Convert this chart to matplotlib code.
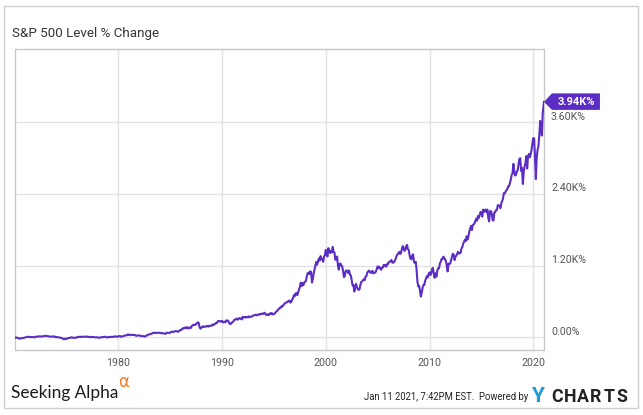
import matplotlib
matplotlib.use("Agg")
import matplotlib.pyplot as plt
import matplotlib.transforms as mt
from matplotlib.patches import Polygon, Rectangle
import numpy as np
import pandas as pd

# ---------------- data ----------------
title = "S&P 500 Level % Change"
base_level = 94.05          # index level at start of chart (0 %)
start_date = "1970-01-02"
end_date = "2021-01-11"
end_level = 3799.61

# monthly closes of the S&P 500, by year (Jan..Dec)
closes = {
    1970: [85.02, 89.50, 89.63, 81.52, 76.55, 72.72, 78.05, 81.52, 84.21, 83.25, 87.20, 92.15],
    1971: [95.88, 96.75, 100.31, 103.95, 99.63, 99.70, 95.58, 99.03, 98.34, 94.23, 93.99, 102.09],
    1972: [103.94, 106.57, 107.20, 107.67, 109.53, 107.14, 107.39, 111.09, 110.55, 111.58, 116.67, 118.05],
    1973: [116.03, 111.68, 111.52, 106.97, 104.95, 104.26, 108.22, 104.25, 108.43, 108.29, 95.96, 97.55],
    1974: [96.57, 96.22, 93.98, 90.31, 87.28, 86.00, 79.31, 72.15, 63.54, 73.90, 69.97, 68.56],
    1975: [76.98, 81.59, 83.36, 87.30, 91.15, 95.19, 88.75, 86.88, 83.87, 89.04, 91.24, 90.19],
    1976: [100.86, 99.71, 102.77, 101.64, 100.18, 104.28, 103.44, 102.91, 105.24, 102.90, 102.10, 107.46],
    1977: [102.03, 99.82, 98.42, 98.44, 96.12, 100.48, 98.85, 96.77, 96.53, 92.34, 94.83, 95.10],
    1978: [89.25, 87.04, 89.21, 96.83, 97.24, 95.53, 100.68, 103.29, 102.54, 93.15, 94.70, 96.11],
    1979: [99.93, 96.28, 101.59, 101.76, 99.08, 102.91, 103.81, 109.32, 109.32, 101.82, 106.16, 107.94],
    1980: [114.16, 113.66, 102.09, 106.29, 111.24, 114.24, 121.67, 122.38, 125.46, 127.47, 140.52, 135.76],
    1981: [129.55, 131.27, 136.00, 132.81, 132.59, 131.21, 130.92, 122.79, 116.18, 121.89, 126.35, 122.55],
    1982: [120.40, 113.11, 111.96, 116.44, 111.88, 109.61, 107.09, 119.51, 120.42, 133.71, 138.54, 140.64],
    1983: [145.30, 148.06, 152.96, 164.42, 162.39, 168.11, 162.56, 164.40, 166.07, 163.55, 166.40, 164.93],
    1984: [163.41, 157.06, 159.18, 160.05, 150.55, 153.18, 150.66, 166.68, 166.10, 166.09, 163.58, 167.24],
    1985: [179.63, 181.18, 180.66, 179.83, 189.55, 191.85, 190.92, 188.63, 182.08, 189.82, 202.17, 211.28],
    1986: [211.78, 226.92, 238.90, 235.52, 247.35, 250.84, 236.12, 252.93, 231.32, 243.98, 249.22, 242.17],
    1987: [274.08, 284.20, 291.70, 288.36, 290.10, 304.00, 318.66, 329.80, 321.83, 251.79, 230.30, 247.08],
    1988: [257.07, 267.82, 258.89, 261.33, 262.16, 273.50, 272.02, 261.52, 271.91, 278.97, 273.70, 277.72],
    1989: [297.47, 288.86, 294.87, 309.64, 320.52, 317.98, 346.08, 351.45, 349.15, 340.36, 345.99, 353.40],
    1990: [329.08, 331.89, 339.94, 330.80, 361.23, 358.02, 356.15, 322.56, 306.05, 304.00, 322.22, 330.22],
    1991: [343.93, 367.07, 375.22, 375.35, 389.83, 371.16, 387.81, 395.43, 387.86, 392.46, 375.22, 417.09],
    1992: [408.79, 412.70, 403.69, 414.95, 415.35, 408.14, 424.21, 414.03, 417.80, 418.68, 431.35, 435.71],
    1993: [438.78, 443.38, 451.67, 440.19, 450.19, 450.53, 448.13, 463.56, 458.93, 467.83, 461.79, 466.45],
    1994: [481.61, 467.14, 445.77, 450.91, 456.50, 444.27, 458.26, 475.49, 462.69, 472.35, 453.69, 459.27],
    1995: [470.42, 487.39, 500.71, 514.71, 533.40, 544.75, 562.06, 561.88, 584.41, 581.50, 605.37, 615.93],
    1996: [636.02, 640.43, 645.50, 654.17, 669.12, 670.63, 639.95, 651.99, 687.31, 705.27, 757.02, 740.74],
    1997: [786.16, 790.82, 757.12, 801.34, 848.28, 885.14, 954.29, 899.47, 947.28, 914.62, 955.40, 970.43],
    1998: [980.28, 1049.34, 1101.75, 1111.75, 1090.82, 1133.84, 1120.67, 957.28, 1017.01, 1098.67, 1163.63, 1229.23],
    1999: [1279.64, 1238.33, 1286.37, 1335.18, 1301.84, 1372.71, 1328.72, 1320.41, 1282.71, 1362.93, 1388.91, 1469.25],
    2000: [1394.46, 1366.42, 1498.58, 1452.43, 1420.60, 1454.60, 1430.83, 1517.68, 1436.51, 1429.40, 1314.95, 1320.28],
    2001: [1366.01, 1239.94, 1160.33, 1249.46, 1255.82, 1224.42, 1211.23, 1133.58, 1040.94, 1059.78, 1139.45, 1148.08],
    2002: [1130.20, 1106.73, 1147.39, 1076.92, 1067.14, 989.82, 911.62, 916.07, 815.28, 885.76, 936.31, 879.82],
    2003: [855.70, 841.15, 848.18, 916.92, 963.59, 974.50, 990.31, 1008.01, 995.97, 1050.71, 1058.20, 1111.92],
    2004: [1131.13, 1144.94, 1126.21, 1107.30, 1120.68, 1140.84, 1101.72, 1104.24, 1114.58, 1130.20, 1173.82, 1211.92],
    2005: [1181.27, 1203.60, 1180.59, 1156.85, 1191.50, 1191.33, 1234.18, 1220.33, 1228.81, 1207.01, 1249.48, 1248.29],
    2006: [1280.08, 1280.66, 1294.87, 1310.61, 1270.09, 1270.20, 1276.66, 1303.82, 1335.85, 1377.94, 1400.63, 1418.30],
    2007: [1438.24, 1406.82, 1420.86, 1482.37, 1530.62, 1503.35, 1455.27, 1473.99, 1526.75, 1549.38, 1481.14, 1468.36],
    2008: [1378.55, 1330.63, 1322.70, 1385.59, 1400.38, 1280.00, 1267.38, 1282.83, 1166.36, 968.75, 896.24, 903.25],
    2009: [825.88, 735.09, 797.87, 872.81, 919.14, 919.32, 987.48, 1020.62, 1057.08, 1036.19, 1095.63, 1115.10],
    2010: [1073.87, 1104.49, 1169.43, 1186.69, 1089.41, 1030.71, 1101.60, 1049.33, 1141.20, 1183.26, 1180.55, 1257.64],
    2011: [1286.12, 1327.22, 1325.83, 1363.61, 1345.20, 1320.64, 1292.28, 1218.89, 1131.42, 1253.30, 1246.96, 1257.60],
    2012: [1312.41, 1365.68, 1408.47, 1397.91, 1310.33, 1362.16, 1379.32, 1406.58, 1440.67, 1412.16, 1416.18, 1426.19],
    2013: [1498.11, 1514.68, 1569.19, 1597.57, 1630.74, 1606.28, 1685.73, 1632.97, 1681.55, 1756.54, 1805.81, 1848.36],
    2014: [1782.59, 1859.45, 1872.34, 1883.95, 1923.57, 1960.23, 1930.67, 2003.37, 1972.29, 2018.05, 2067.56, 2058.90],
    2015: [1994.99, 2104.50, 2067.89, 2085.51, 2107.39, 2063.11, 2103.84, 1972.18, 1920.03, 2079.36, 2080.41, 2043.94],
    2016: [1940.24, 1932.23, 2059.74, 2065.30, 2096.95, 2098.86, 2173.60, 2170.95, 2168.27, 2126.15, 2198.81, 2238.83],
    2017: [2278.87, 2363.64, 2362.72, 2384.20, 2411.80, 2423.41, 2470.30, 2471.65, 2519.36, 2575.26, 2647.58, 2673.61],
    2018: [2823.81, 2713.83, 2640.87, 2648.05, 2705.27, 2718.37, 2816.29, 2901.52, 2913.98, 2711.74, 2760.17, 2506.85],
    2019: [2704.10, 2784.49, 2834.40, 2945.83, 2752.06, 2941.76, 2980.38, 2926.46, 2976.74, 3037.56, 3140.98, 3230.78],
    2020: [3225.52, 2954.22, 2584.59, 2912.43, 3044.31, 3100.29, 3271.12, 3500.31, 3363.00, 3269.96, 3621.63, 3756.07],
}

x_tick_years = [1980, 1990, 2000, 2010, 2020]
y_ticks = [0, 1200, 2400, 3600]
y_tick_labels = ["0.00%", "1.20K%", "2.40K%", "3.60K%"]
end_label = "3.94K%"

# ---------------- build series ----------------
years = sorted(closes)
levels = [base_level] + [v for y in years for v in closes[y]] + [end_level]
dates = ([pd.Timestamp(start_date)]
         + [pd.Timestamp(year=y, month=m, day=1) + pd.offsets.MonthEnd(0)
            for y in years for m in range(1, 13)]
         + [pd.Timestamp(end_date)])
pct = (np.array(levels) / base_level - 1.0) * 100.0

# ---------------- style ----------------
W, H = 643, 415
LINE = "#5c2dc4"
GRID = "#e2e2e2"
SPINE = "#c9c9c9"
TXT = "#555555"

plt.rcParams["font.family"] = ["Roboto", "DejaVu Sans"]

fig = plt.figure(figsize=(W / 100, H / 100), dpi=100)
fig.patch.set_facecolor("white")

def fx(px):
    return px / W

def fy(py):
    return 1 - py / H

# outer frame
fig.add_artist(Rectangle((fx(4), fy(407.5)), fx(638) - fx(4), fy(6) - fy(407.5),
                         transform=fig.transFigure, fill=False, edgecolor="#cfcfcf", lw=1.0))

left, right, top, bottom = 14.7, 544, 49, 350
ax = fig.add_axes([fx(left), fy(bottom), fx(right) - fx(left), fy(top) - fy(bottom)])

ax.plot(dates, pct, color=LINE, lw=1.5, solid_joinstyle="round", zorder=3)

ax.set_xlim(pd.Timestamp("1970-01-01"), pd.Timestamp("2021-01-13"))
ax.set_ylim(-212, 4825)

ax.set_xticks([pd.Timestamp(year=y, month=1, day=1) for y in x_tick_years])
ax.set_xticklabels([str(y) for y in x_tick_years])
ax.set_yticks(y_ticks)
ax.tick_params(axis="x", length=0, pad=5.5, labelsize=7.7, labelcolor=TXT)
ax.tick_params(axis="y", length=0, left=False, labelleft=False, right=False, labelright=False)

ax.grid(True, color=GRID, lw=1.0, zorder=0)
ax.set_axisbelow(True)
for s in ax.spines.values():
    s.set_color(SPINE)
    s.set_linewidth(1.0)

# y labels on right, sitting just above each gridline
ylab_tr = mt.blended_transform_factory(ax.transAxes, ax.transData) + \
    mt.ScaledTranslation(7 / 100, 2.6 / 100, fig.dpi_scale_trans)
for v, s in zip(y_ticks, y_tick_labels):
    ax.text(1.0, v, s, transform=ylab_tr, ha="left", va="baseline",
            fontsize=7.7, color=TXT, clip_on=False)

# end-value flag
end_tr = mt.Affine2D() + mt.ScaledTranslation(
    matplotlib.dates.date2num(dates[-1]), pct[-1], ax.transData)
flag = Polygon([(0, 0), (8, 8.5), (56, 8.5), (56, -8), (8, -8)], closed=True,
               transform=end_tr, facecolor=LINE, edgecolor="none", clip_on=False, zorder=5)
ax.add_artist(flag)
ax.text(32, -0.3, end_label, transform=end_tr, ha="center", va="center",
        color="white", fontsize=8.0, fontweight="bold", clip_on=False, zorder=6)

# title
fig.text(fx(12), fy(37.5), title, ha="left", va="baseline", fontsize=9.6, color="#333333")

# footer
fig.text(fx(11), fy(397.5), "Seeking Alpha", ha="left", va="baseline",
         fontsize=12.4, color="#1a1a1a", family=["Lato", "DejaVu Sans"])
fig.text(fx(118.5), fy(386.5), "\u03b1", ha="left", va="baseline",
         fontsize=12, color="#f47b20", family=["DejaVu Sans"])

fig.text(fx(364), fy(400), "Jan 11 2021, 7:42PM EST.  Powered by", ha="left", va="baseline",
         fontsize=6.85, color="#222222")
fig.text(fx(531), fy(402), "Y", ha="left", va="baseline", fontsize=15,
         fontweight="bold", color="#1e9ad6", family=["Roboto", "DejaVu Sans"])
for i, ch in enumerate("CHARTS"):
    fig.text(fx(551 + i * 13.1), fy(402), ch, ha="left", va="baseline", fontsize=12.8,
             fontweight="bold", color="#222222", family=["Roboto", "DejaVu Sans"])

fig.savefig("out.png", dpi=100, facecolor="white")
